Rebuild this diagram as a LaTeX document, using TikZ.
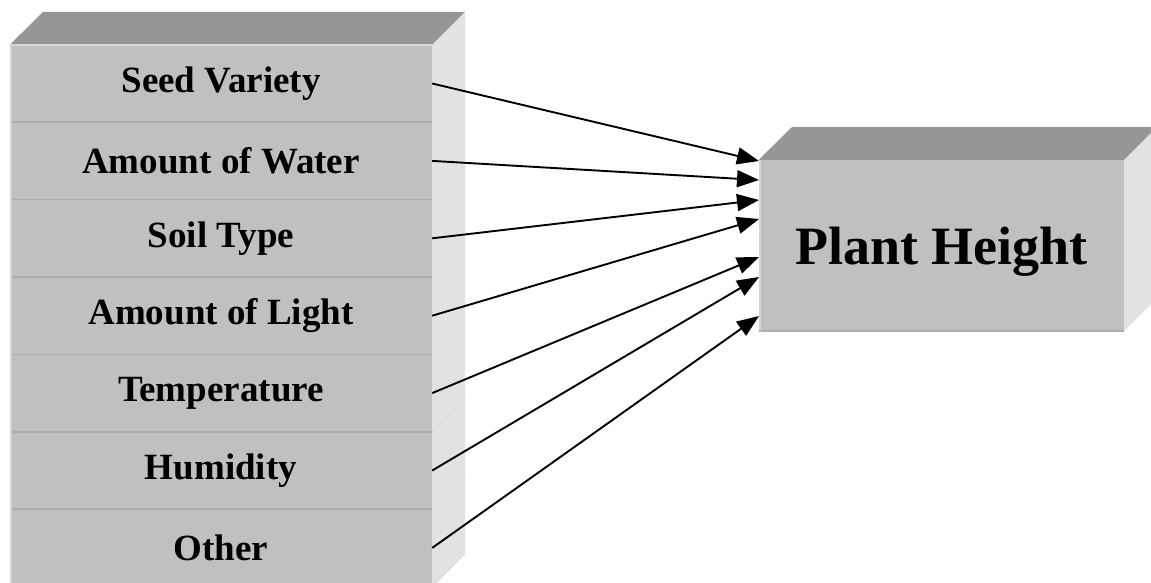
\documentclass[tikz,border=0pt]{standalone}
\usepackage{fontspec}
\setmainfont{Liberation Serif}
\usetikzlibrary{arrows.meta,positioning}
\definecolor{facegray}{HTML}{C0C0C0}
\definecolor{topgray}{HTML}{969696}
\definecolor{sidegray}{HTML}{E2E2E2}
\definecolor{seamgray}{HTML}{AEAEAE}
\definecolor{edgegray}{HTML}{D6D6D6}

\begin{document}
\begin{tikzpicture}[x=1pt,y=-1pt,
  rowbox/.style={rectangle,fill=facegray,inner sep=0pt,minimum width=422pt,minimum height=77pt,font=\bfseries\fontsize{37}{40}\selectfont},
  outbox/.style={rectangle,fill=facegray,inner sep=0pt,minimum width=365pt,minimum height=171pt,text depth=0pt,font=\bfseries\fontsize{54}{60}\selectfont},
  side/.style={fill=sidegray},
  roof/.style={fill=topgray},
  seam/.style={draw=seamgray,line width=1.6pt},
  a/.style={-{Triangle[length=22pt,width=17pt]},line width=1.9pt}]
\useasboundingbox (0,0) rectangle (1151,582);
% factor stack
\node[rowbox] (seed) at (221,83.5) {Seed Variety};
\node[rowbox,below=0pt of seed] (water) {Amount of Water};
\node[rowbox,below=0pt of water] (soil) {Soil Type};
\node[rowbox,below=0pt of soil] (light) {Amount of Light};
\node[rowbox,below=0pt of light] (temp) {Temperature};
\node[rowbox,below=0pt of temp] (humid) {Humidity};
\node[rowbox,below=0pt of humid] (other) {Other};
\fill[roof] (seed.north west) -- (seed.north east) -- ++(33,-33) -- ++(-422,0) -- cycle;
\foreach \r in {seed,water,soil,light,temp,humid,other}{
  \fill[side] (\r.north east) -- ++(33,-33) -- ++(0,77) -- (\r.south east) -- cycle;
  \draw[seamgray!60,line width=0.5pt] (\r.south east) -- ++(33,-33);
}
\foreach \r in {seed,water,soil,light,temp,humid}
  \draw[seam] (\r.south west) -- (\r.south east);
\draw[edgegray,line width=1.5pt] ([xshift=1pt]seed.north west) -- ([xshift=1pt]other.south west);
\draw[edgegray,line width=1.5pt] (seed.north west) -- (seed.north east);
% response box
\node[outbox] (plant) at (941.5,245.5) {Plant Height};
\fill[roof] (plant.north west) -- (plant.north east) -- ++(33,-33) -- ++(-365,0) -- cycle;
\fill[side] (plant.north east) -- ++(33,-33) -- ++(0,171) -- (plant.south east) -- cycle;
\draw[edgegray,line width=1.5pt] ([xshift=1pt]plant.north west) -- ([xshift=1pt]plant.south west);
\draw[seam] (plant.south west) -- (plant.south east);
% arrow targets
\coordinate (p1) at (759,161);
\coordinate (p2) at (759,180);
\coordinate (p3) at (759,200);
\coordinate (p4) at (759,219);
\coordinate (p5) at (759,257);
\coordinate (p6) at (759,277);
\coordinate (p7) at (759,316);
\draw[a] (seed.east) -- (p1);
\draw[a] (water.east) -- (p2);
\draw[a] (soil.east) -- (p3);
\draw[a] (light.east) -- (p4);
\draw[a] (temp.east) -- (p5);
\draw[a] (humid.east) -- (p6);
\draw[a] (other.east) -- (p7);
\end{tikzpicture}
\end{document}
